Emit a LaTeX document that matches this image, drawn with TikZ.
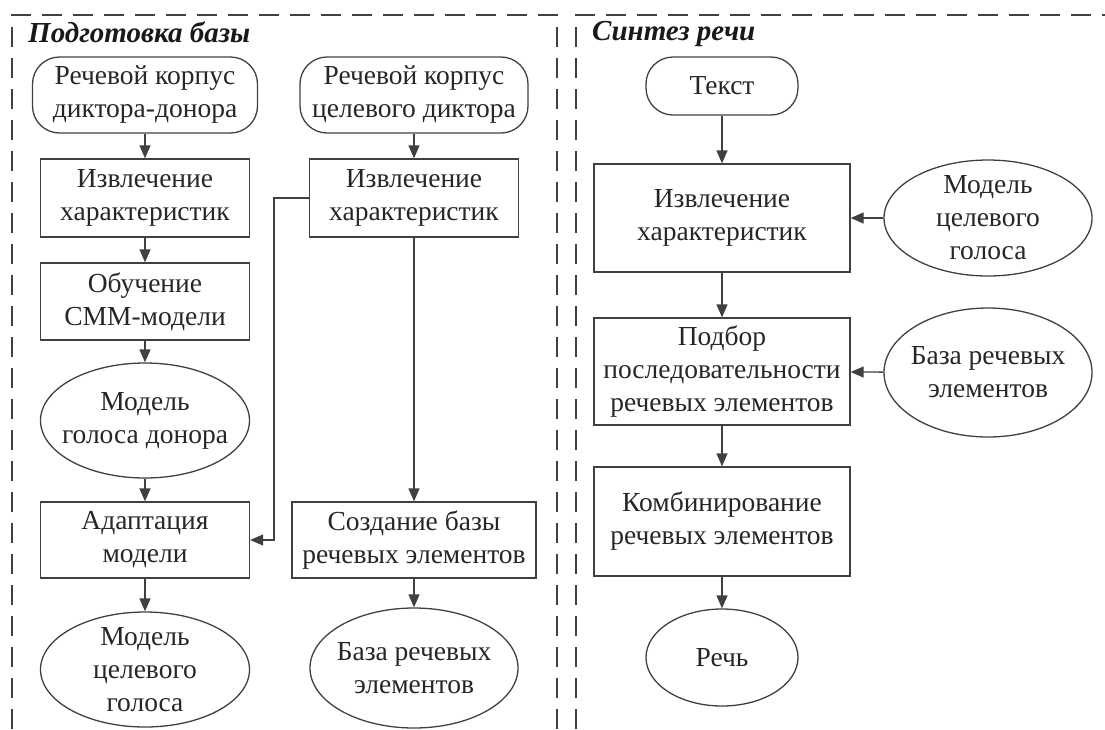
\documentclass[tikz,border=0pt]{standalone}
\usepackage{fontspec}
\setmainfont{Liberation Serif}
\usetikzlibrary{shapes.geometric,arrows.meta}
\begin{document}
\begin{tikzpicture}[x=1pt,y=-1pt,
  txt/.style={font=\fontsize{27.5}{33}\selectfont, text=black!85},
  proc/.style={txt, draw=black!75, line width=1.3pt, rectangle, align=center, inner sep=0pt},
  term/.style={txt, draw=black!75, line width=1.3pt, rectangle, rounded corners=27pt, align=center, inner sep=0pt},
  oval/.style={draw=black!75, line width=1.3pt, ellipse, inner sep=0pt},
  ovallbl/.style={label={[txt, align=center]center:#1}},
  flow/.style={draw=black!75, line width=1.3pt, -{Triangle[length=13pt,width=11pt]}},
  panel/.style={draw=black!75, line width=1.3pt, dash pattern=on 20pt off 11pt},
  ttl/.style={font=\fontsize{29}{34}\selectfont\bfseries\itshape, text=black!90, anchor=base west, inner sep=0pt}
]
\useasboundingbox (0,0) rectangle (1105,729);

% panels
\draw[panel] (12,729) -- (12,15) -- (557,15) -- (557,729);
\draw[panel] (576,729) -- (576,15) -- (1105,15);
\node[ttl] (t1) at (28,42) {Подготовка базы};
\node[ttl] (t2) at (592,40) {Синтез речи};

% left column
\node[term, minimum width=225pt, minimum height=76pt] (r1) at (145,95) {Речевой корпус\\диктора-донора};
\node[proc, minimum width=209pt, minimum height=78pt] (b1) at (145,198) {Извлечение\\характеристик};
\node[proc, minimum width=209pt, minimum height=77pt] (tr) at (145,301.5) {Обучение\\СММ-модели};
\node[oval, minimum width=209pt, minimum height=115pt, ovallbl={Модель\\голоса донора}] (e1) at (145,420.5) {};
\node[proc, minimum width=209pt, minimum height=76pt] (ad) at (145,540) {Адаптация\\модели};
\node[oval, minimum width=209pt, minimum height=115pt, ovallbl={Модель\\целевого\\голоса}] (e2) at (145,669.5) {};

% second column
\node[term, minimum width=228pt, minimum height=76pt] (r2) at (414,95) {Речевой корпус\\целевого диктора};
\node[proc, minimum width=209pt, minimum height=78pt] (b2) at (414,198) {Извлечение\\характеристик};
\node[proc, minimum width=244pt, minimum height=76pt] (cr) at (414,540) {Создание базы\\речевых элементов};
\node[oval, minimum width=208pt, minimum height=120pt, ovallbl={База речевых\\элементов}] (e3) at (414,668) {};
\coordinate (k1) at (274,198);
\coordinate (k2) at (274,540);

% right panel
\node[term, minimum width=152pt, minimum height=58pt] (tx) at (722,86) {Текст};
\node[proc, minimum width=256pt, minimum height=108pt] (ex) at (722,218) {Извлечение\\характеристик};
\node[oval, minimum width=208pt, minimum height=116pt, ovallbl={Модель\\целевого\\голоса}] (mv) at (988,218) {};
\node[proc, minimum width=256pt, minimum height=107pt] (se) at (722,371.5) {Подбор\\последовательности\\речевых элементов};
\node[oval, minimum width=208pt, minimum height=129pt, ovallbl={База речевых\\элементов}] (db) at (988,372.5) {};
\node[proc, minimum width=256pt, minimum height=109pt] (cb) at (722,521.5) {Комбинирование\\речевых элементов};
\node[oval, minimum width=152pt, minimum height=97pt, ovallbl={Речь}] (sp) at (722,657.5) {};

% connectors
\draw[flow] (r1) -- (b1);
\draw[flow] (b1) -- (tr);
\draw[flow] (tr) -- (e1);
\draw[flow] (e1) -- (ad);
\draw[flow] (ad) -- (e2);
\draw[flow] (r2) -- (b2);
\draw[flow] (b2) -- (cr);
\draw[flow] (cr) -- (e3);
\draw[flow] (b2.west) -- (k1) -- (k2) -- (ad.east);
\draw[flow] (tx) -- (ex);
\draw[flow] (mv) -- (ex);
\draw[flow] (ex) -- (se);
\draw[flow] (db) -- (se);
\draw[flow] (se) -- (cb);
\draw[flow] (cb) -- (sp);
\end{tikzpicture}
\end{document}
